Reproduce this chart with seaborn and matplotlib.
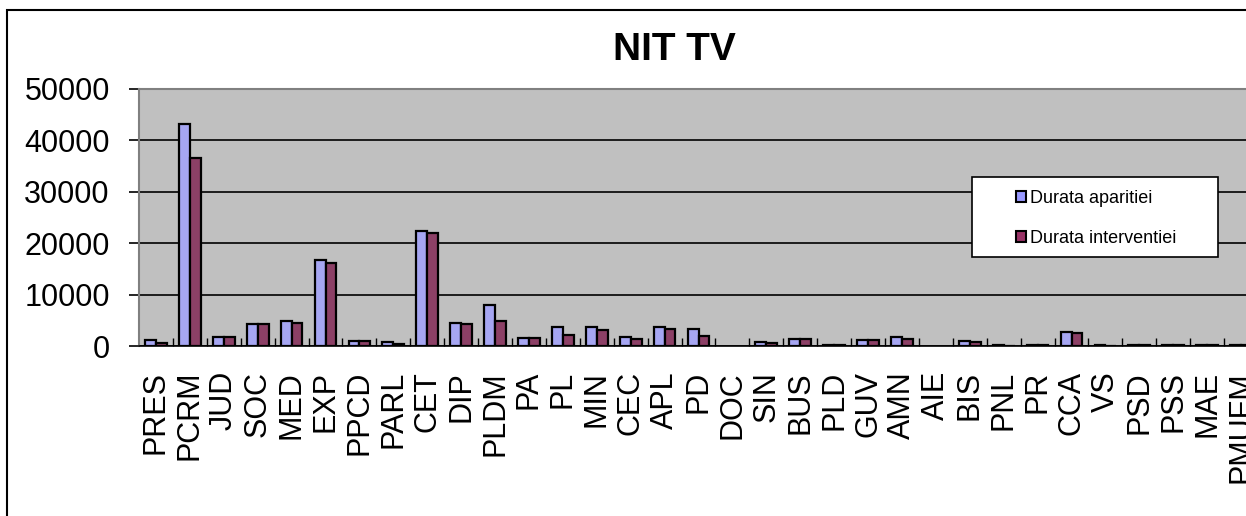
import pandas as pd
import matplotlib.pyplot as plt
import seaborn as sns
from matplotlib.patches import Rectangle, Patch

categories = ['PRES', 'PCRM', 'JUD', 'SOC', 'MED', 'EXP', 'PPCD', 'PARL', 'CET', 'DIP',
              'PLDM', 'PA', 'PL', 'MIN', 'CEC', 'APL', 'PD', 'DOC', 'SIN', 'BUS',
              'PLD', 'GUV', 'AMN', 'AIE', 'BIS', 'PNL', 'PR', 'CCA', 'VS', 'PSD',
              'PSS', 'MAE', 'PMUFM']
durata_aparitiei = [1200, 43200, 1700, 4200, 4800, 16700, 1000, 700, 22400, 4500,
                    7900, 1600, 3700, 3700, 1700, 3700, 3400, 0, 700, 1400,
                    200, 1250, 1800, 0, 1000, 150, 200, 2800, 150, 200,
                    200, 200, 200]
durata_interventiei = [600, 36600, 1700, 4200, 4500, 16200, 1000, 450, 22000, 4200,
                       4800, 1600, 2200, 3200, 1400, 3300, 1900, 0, 600, 1400,
                       200, 1250, 1300, 0, 750, 50, 150, 2500, 50, 200,
                       200, 200, 200]
series = ['Durata aparitiei', 'Durata interventiei']
colors = {'Durata aparitiei': '#9999FF', 'Durata interventiei': '#993366'}

df = pd.DataFrame({
    'Categorie': categories * 2,
    'Valoare': durata_aparitiei + durata_interventiei,
    'Serie': [series[0]] * len(categories) + [series[1]] * len(categories),
})

sns.set_style("white")
plt.rcParams['font.family'] = ['Liberation Sans', 'DejaVu Sans']
plt.rcParams['text.color'] = 'black'
plt.rcParams['xtick.color'] = 'black'
plt.rcParams['ytick.color'] = 'black'

W, H = 1246, 516
fig = plt.figure(figsize=(W / 100, H / 100), dpi=100)
left, right, top, bottom = 139, 1258, 89, 346
ax = fig.add_axes([left / W, 1 - bottom / H, (right - left) / W, (bottom - top) / H])

sns.barplot(data=df, x='Categorie', y='Valoare', hue='Serie', palette=colors,
            width=0.64, edgecolor='black', linewidth=1.6, ax=ax, legend=False)

# hide edges of zero-height bars
for p in ax.patches:
    if p.get_height() == 0:
        p.set_linewidth(0)

ax.set_facecolor('#C0C0C0')
ax.set_ylim(0, 50000)
ax.set_xlim(-0.5, len(categories) - 0.5)
ax.set_yticks(range(0, 50001, 10000))
ax.yaxis.grid(True, color='black', linewidth=1.2)
ax.set_axisbelow(True)
ax.set_xlabel('')
ax.set_ylabel('')
ax.tick_params(axis='y', labelsize=22, length=7, width=1.2, color='black', pad=14,
               direction='out', left=True, labelcolor='black')
ax.tick_params(axis='x', which='major', labelsize=22, length=0, pad=18, rotation=90,
               labelcolor='black')
ax.set_xticks([i - 0.5 for i in range(1, len(categories))], minor=True)
ax.tick_params(axis='x', which='minor', direction='in', length=6, width=1, color='black', bottom=True)
for s in ['top', 'right', 'left']:
    ax.spines[s].set_color('#808080')
    ax.spines[s].set_linewidth(1.5)
ax.spines['bottom'].set_color('black')
ax.spines['bottom'].set_linewidth(1.2)

fig.text(674 / W, 1 - 50 / H, 'NIT TV', ha='center', va='center', fontsize=28,
         fontweight='bold', color='black')

# legend box
fig.patches.append(Rectangle((972 / W, 1 - 257 / H), (1218 - 972) / W, 80 / H,
                             transform=fig.transFigure, facecolor='white', edgecolor='black',
                             linewidth=1.2, zorder=5))
handles = [Patch(facecolor=colors[s], edgecolor='black', linewidth=1.5) for s in series]
leg = fig.legend(handles, series, loc='upper left', bbox_to_anchor=(1016 / W, 1 - 190 / H),
                 frameon=False, fontsize=13, handlelength=0.55, handleheight=0.55,
                 handletextpad=0.25, labelspacing=1.25, borderaxespad=0, borderpad=0)
leg.set_zorder(6)

# outer chart frame
fig.patches.append(Rectangle((7 / W, -0.1), 1.2, 1.1 - 9.5 / H, transform=fig.transFigure,
                             fill=False, edgecolor='black', linewidth=1.5))

plt.savefig('out.png', dpi=100)
